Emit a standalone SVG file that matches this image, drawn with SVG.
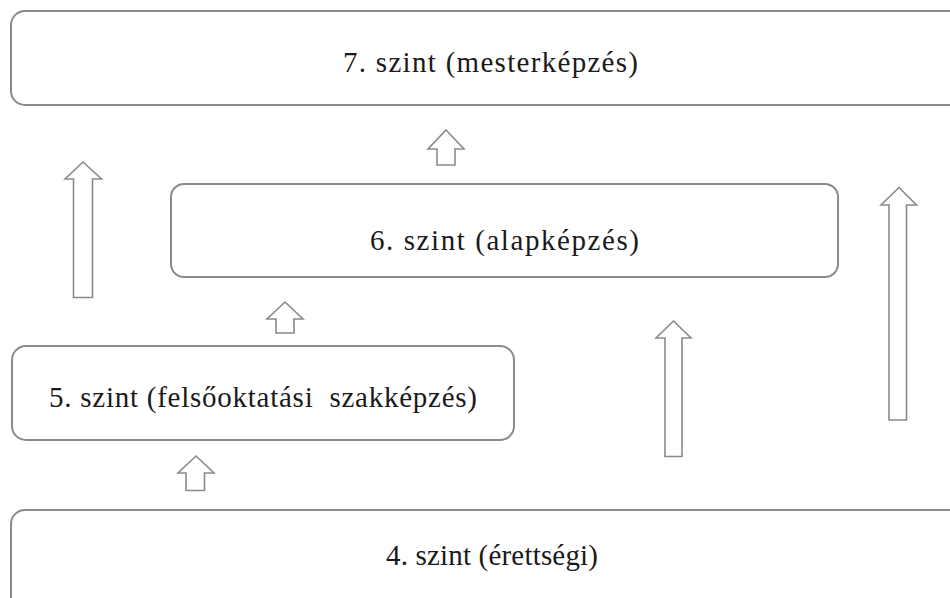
<svg xmlns="http://www.w3.org/2000/svg" width="950" height="598" viewBox="0 0 950 598">
  <style>
    .box { fill: #ffffff; stroke: #8a8a8a; stroke-width: 2; }
    .lbl { font-family: "Liberation Serif", "Times New Roman", "DejaVu Serif", serif; font-size: 29px; fill: #1a1a1a; }
    .up { fill: #ffffff; stroke: #8a8a8a; stroke-width: 1.6; stroke-linejoin: miter; }
  </style>
  <rect width="950" height="598" fill="#ffffff"/>

  <g id="level7">
    <rect class="box" x="11" y="11" width="960" height="94" rx="14"/>
    <text class="lbl" font-family="Liberation Serif, serif" x="343" y="72" textLength="295" lengthAdjust="spacing">7. szint (mesterképzés)</text>
  </g>

  <g id="level6">
    <rect class="box" x="171" y="184" width="667" height="93" rx="13"/>
    <text class="lbl" font-family="Liberation Serif, serif" x="370" y="250" textLength="269" lengthAdjust="spacing">6. szint (alapképzés)</text>
  </g>

  <g id="level5">
    <rect class="box" x="12" y="346" width="502" height="94" rx="14"/>
    <text class="lbl" font-family="Liberation Serif, serif" x="49" y="407" textLength="428" lengthAdjust="spacing" xml:space="preserve">5. szint (felsőoktatási  szakképzés)</text>
  </g>

  <g id="level4">
    <rect class="box" x="11" y="510" width="960" height="110" rx="14"/>
    <text class="lbl" font-family="Liberation Serif, serif" x="386" y="565" textLength="212" lengthAdjust="spacing">4. szint (érettségi)</text>
  </g>

  <g id="connectors">
    <!-- 5 -> 7 -->
    <polygon class="up" points="83,162 101.5,179 92.5,179 92.5,297.5 73.5,297.5 73.5,179 65,179"/>
    <!-- 6 -> 7 -->
    <polygon class="up" points="446,130 464,149 455,149 455,165 437,165 437,149 428,149"/>
    <!-- 5 -> 6 -->
    <polygon class="up" points="285,302 303,319 294,319 294,333 276,333 276,319 267,319"/>
    <!-- 4 -> 6 -->
    <polygon class="up" points="673.5,321 691,338 682,338 682,456.5 665,456.5 665,338 656,338"/>
    <!-- 4 -> 7 -->
    <polygon class="up" points="899,187.5 916.5,205 906.5,205 906.5,420 889,420 889,205 881,205"/>
    <!-- 4 -> 5 -->
    <polygon class="up" points="196,456 214,473 204.5,473 204.5,490.5 186,490.5 186,473 178,473"/>
  </g>
</svg>
